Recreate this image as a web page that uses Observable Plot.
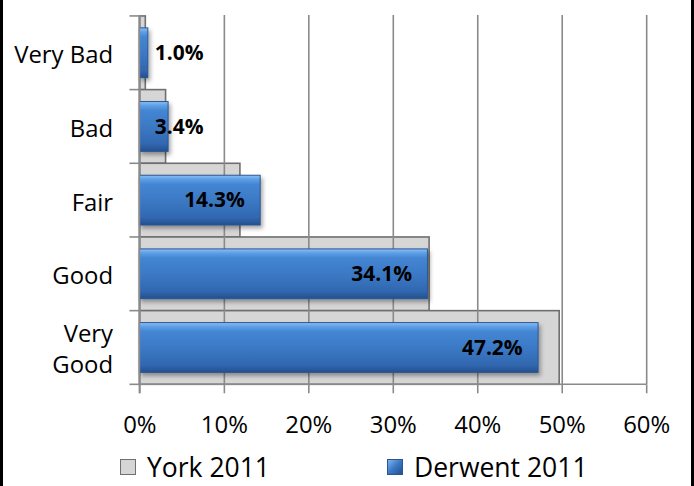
<!DOCTYPE html>
<html>
<head>
<meta charset="utf-8">
<script src="https://cdn.jsdelivr.net/npm/d3@7"></script>
<script src="https://cdn.jsdelivr.net/npm/@observablehq/plot@0.6"></script>
<style>
  html, body { margin: 0; padding: 0; background: #fff; }
  #wrap { position: relative; width: 694px; height: 486px; overflow: hidden; box-sizing: border-box; border-left: 3px solid #000; border-right: 3px solid #000; }
  #chart { position: absolute; left: -3px; top: 0; }
  #legend { position: absolute; left: -3px; top: 446px; width: 694px; height: 40px; font-family: "Open Sans", sans-serif; font-size: 26.5px; color: #000; }
  .item { position: absolute; top: 4px; display: flex; align-items: center; line-height: 34px; }
  .sw { width: 16px; height: 16px; margin-right: 11px; box-sizing: border-box; }
</style>
</head>
<body>
<div id="wrap">
  <div id="chart"></div>
  <div id="legend"></div>
</div>
<script>
const categories = ["Very Bad", "Bad", "Fair", "Good", "Very Good"];
const york2011 = [0.007, 0.031, 0.119, 0.343, 0.497];
const derwent2011 = [0.010, 0.034, 0.143, 0.341, 0.472];
const xTicks = [0, 0.1, 0.2, 0.3, 0.4, 0.5, 0.6];
const seriesNames = ["York 2011", "Derwent 2011"];

const york = categories.map((c, i) => ({category: c, value: york2011[i]}));
const derwent = categories.map((c, i) => ({category: c, value: derwent2011[i]}));

const font = "'Open Sans', sans-serif";
const pct = d => (d * 100).toFixed(1) + "%";

const plot = Plot.plot({
  width: 694,
  height: 446,
  marginLeft: 140,
  marginRight: 45,
  marginTop: 15,
  marginBottom: 60,
  style: {fontFamily: font, background: "transparent", overflow: "visible"},
  x: {domain: [0, 0.6], ticks: xTicks},
  y: {domain: categories, padding: 0, type: "band"},
  marks: [
    Plot.barX(york, {x: "value", y: "category", fill: "#d6d6d6", stroke: "#6f6f6f", strokeWidth: 1.6}),
    Plot.gridX(xTicks, {stroke: "#8a8a8a", strokeOpacity: 1, strokeWidth: 1.6}),
    Plot.barX(derwent, {x: "value", y: "category", fill: "#3a77c3", stroke: "#2b5590", strokeWidth: 1, insetTop: 12, insetBottom: 12}),
    Plot.text(derwent.filter(d => d.value >= 0.1), {x: "value", y: "category", text: d => pct(d.value), textAnchor: "end", dx: -16, fontSize: 21, fontWeight: "bold", fill: "#000"}),
    Plot.text(derwent.filter(d => d.value < 0.1), {x: 0, y: "category", text: d => pct(d.value), textAnchor: "start", dx: 15, fontSize: 21, fontWeight: "bold", fill: "#000"}),
    Plot.axisX({ticks: xTicks, tickFormat: d => Math.round(d * 100) + "%", tickSize: 9, tickPadding: 22, fontSize: 24, stroke: "#8a8a8a", strokeWidth: 1.6, fill: "#000", label: null}),
    Plot.axisY({tickSize: 0, tickPadding: 27, fontSize: 24, fill: "#000", label: null, tickFormat: d => d === "Very Good" ? "Very\nGood" : d, lineHeight: 1.3})
  ]
});

// defs: gradient + shadow
const svg = d3.select(plot);
const defs = svg.insert("defs", ":first-child");
const g = defs.append("linearGradient").attr("id", "blueGrad").attr("x1", 0).attr("y1", 0).attr("x2", 0).attr("y2", 1);
[["0%", "#8cc0f2"], ["8%", "#5f9fe6"], ["18%", "#4486d3"], ["55%", "#3a77c3"], ["85%", "#3167b0"], ["100%", "#24508d"]]
  .forEach(([o, c]) => g.append("stop").attr("offset", o).attr("stop-color", c));
const f = defs.append("filter").attr("id", "shadow").attr("x", "-5%").attr("y", "-20%").attr("width", "115%").attr("height", "160%");
f.append("feDropShadow").attr("dx", 2).attr("dy", 3).attr("stdDeviation", 2).attr("flood-color", "#000").attr("flood-opacity", 0.35);

// style the Derwent bars (second bar group)
const barGroups = svg.selectAll('g[aria-label="bar"]').nodes();
if (barGroups.length > 1) {
  const bg = d3.select(barGroups[1]);
  bg.attr("fill", "url(#blueGrad)").attr("filter", "url(#shadow)");
  bg.selectAll("rect").attr("fill", null);
}

// y axis line, x baseline and band-boundary ticks from the scales
const ys = plot.scale("y"), xs = plot.scale("x");
const bw = ys.bandwidth;
const x0 = xs.apply(0), x1 = xs.apply(0.6);
const bounds = categories.map(c => ys.apply(c)).concat([ys.apply(categories[categories.length - 1]) + bw]);
const yBottom = bounds[bounds.length - 1];
const axisG = svg.append("g").attr("stroke", "#8a8a8a").attr("stroke-width", 1.6);
axisG.append("line").attr("x1", x0).attr("x2", x0).attr("y1", bounds[0]).attr("y2", yBottom + 9);
axisG.append("line").attr("x1", x0).attr("x2", x1).attr("y1", yBottom).attr("y2", yBottom);
bounds.forEach(b => axisG.append("line").attr("x1", x0 - 10).attr("x2", x0).attr("y1", b).attr("y2", b));

document.getElementById("chart").appendChild(plot);

// legend
const legend = document.getElementById("legend");
const swatches = [
  {left: 120, style: "background:#d6d6d6;border:1px solid #6f6f6f;"},
  {left: 387, style: "background:linear-gradient(135deg,#7fb4ee 0%,#3a77c3 50%,#24508d 100%);border:1px solid #2b5590;"}
];
seriesNames.forEach((name, i) => {
  const it = document.createElement("div");
  it.className = "item";
  it.style.left = swatches[i].left + "px";
  it.innerHTML = `<div class="sw" style="${swatches[i].style}"></div><span>${name}</span>`;
  legend.appendChild(it);
});
</script>
</body>
</html>
